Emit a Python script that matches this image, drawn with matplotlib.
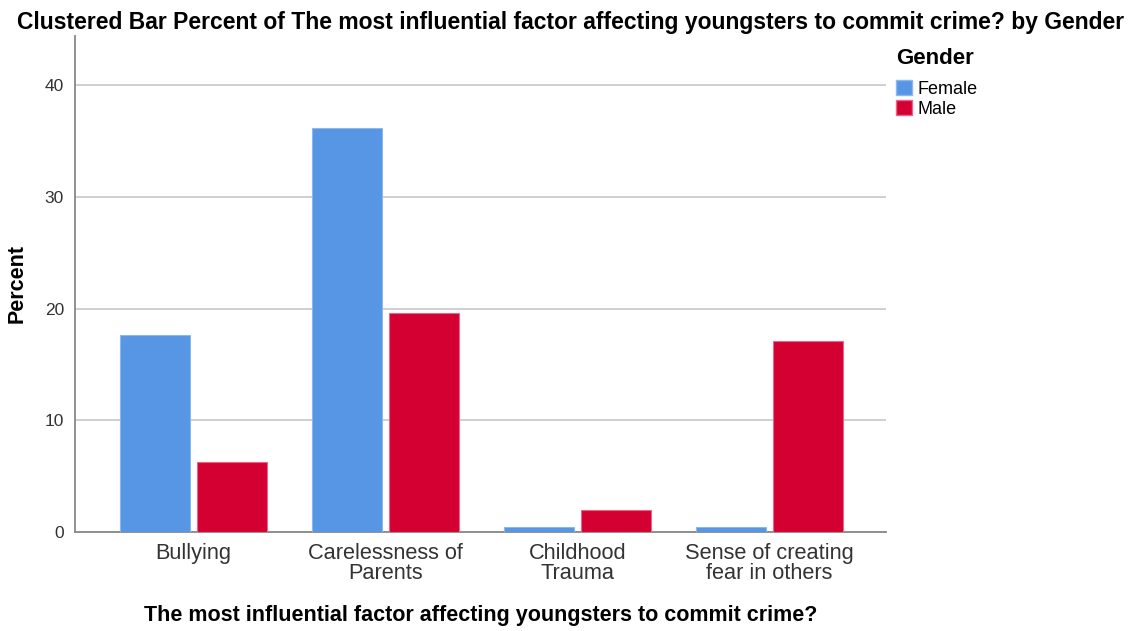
import numpy as np
import matplotlib.pyplot as plt
from matplotlib.patches import Patch

plt.rcParams['font.family'] = ['Liberation Sans', 'DejaVu Sans']

categories = ['Bullying', 'Carelessness of\nParents', 'Childhood\nTrauma',
              'Sense of creating\nfear in others']
female = [17.6, 36.2, 0.45, 0.45]
male = [6.3, 19.6, 1.95, 17.1]
yticks = [0, 10, 20, 30, 40]

c_female = '#5796E4'
c_male = '#D50032'

fig = plt.figure(figsize=(11.35, 6.31), dpi=100)
ax = fig.add_axes([0.0661, 0.157, 0.7145, 0.786])

x = np.arange(len(categories))
w = 0.365
ax.bar(x - 0.2, female, w, color=c_female, edgecolor='#8DB8EE', linewidth=0.8, zorder=3)
ax.bar(x + 0.2, male, w, color=c_male, edgecolor='#E8668A', linewidth=0.8, zorder=3)

ax.set_xlim(-0.617, 3.607)
ax.set_ylim(0, 44.4)
ax.set_yticks(yticks)
ax.set_xticks(x)
ax.set_xticklabels(categories, fontsize=15.7, color='#333333', linespacing=0.92)
ax.tick_params(axis='y', labelsize=12.5, colors='#333333', length=0, pad=8)
ax.tick_params(axis='x', length=0, pad=8)
ax.yaxis.grid(True, color='#CCCCCC', linewidth=1.3, zorder=0)

for s in ['top', 'right']:
    ax.spines[s].set_visible(False)
ax.spines['left'].set_color('#888888')
ax.spines['bottom'].set_color('#888888')
ax.spines['left'].set_linewidth(1.3)
ax.spines['bottom'].set_linewidth(1.3)

ax.set_ylabel('Percent', fontsize=15.5, fontweight='bold', labelpad=12)
ax.set_xlabel('The most influential factor affecting youngsters to commit crime?',
              fontsize=15.5, fontweight='bold', labelpad=15)
fig.suptitle('Clustered Bar Percent of The most influential factor affecting youngsters to commit crime? by Gender',
             x=0.503, y=0.983, fontsize=16.5, fontweight='bold')

handles = [Patch(facecolor=c_female, edgecolor='#8DB8EE', label='Female'),
           Patch(facecolor=c_male, edgecolor='#E8668A', label='Male')]
leg = fig.legend(handles=handles, title='Gender', loc='upper left',
                 bbox_to_anchor=(0.775, 0.95), frameon=False, fontsize=13,
                 title_fontproperties={'weight': 'bold', 'size': 16},
                 handlelength=0.9, handleheight=0.9, handletextpad=0.3,
                 labelspacing=0.15, alignment='left')
leg._legend_box.sep = 8

fig.savefig('out.png', dpi=100)
